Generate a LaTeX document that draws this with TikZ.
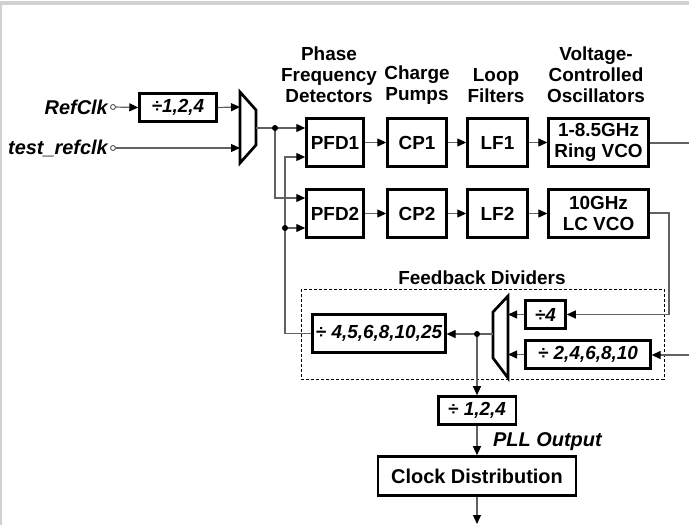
\documentclass[tikz,border=0pt]{standalone}
\usepackage{fontspec}
\setmainfont{Liberation Sans}
\usetikzlibrary{arrows.meta}
\newcommand\fsb{\fontsize{19}{21}\selectfont\bfseries}
\newcommand\fsi{\fontsize{19}{21}\selectfont\bfseries\itshape}
\newcommand\fsl{\fontsize{20}{22}\selectfont\bfseries\itshape}
\begin{document}
\begin{tikzpicture}[x=1bp,y=-1bp,
  box/.style={draw=black,line width=2.7bp,inner sep=0pt,align=center,font=\fsb},
  ibox/.style={box,font=\fsi},
  hdr/.style={align=center,font=\fsb,inner sep=0pt},
  lbl/.style={font=\fsl,inner sep=0pt},
  wire/.style={draw=black!62,line width=1.2bp},
  arr/.style={-{Triangle[length=9bp,width=8bp,color=black]}},
  mux/.style={draw=black,line width=2.7bp,line join=miter},
  term/.style={circle,draw=black!65,fill=white,inner sep=0pt,minimum size=5bp,line width=0.9bp},
  dot/.style={circle,fill=black,inner sep=0pt,minimum size=6bp},
  grp/.style={draw=black,line width=0.7bp,dash pattern=on 3bp off 2bp}]
\useasboundingbox (0,0) rectangle (689,525);
\fill[white] (0,0) rectangle (689,525);
\fill[black!18] (0,1) rectangle (689,5);
\fill[black!18] (0,1) rectangle (2,525);

% headers
\node[hdr] (hpfd) at (329,75) {Phase\\Frequency\\Detectors};
\node[hdr] (hcp) at (417,85.5) {Charge\\Pumps};
\node[hdr] (hlf) at (496,85.5) {Loop\\Filters};
\node[hdr] (hvco) at (596,75) {Voltage-\\Controlled\\Oscillators};

% inputs
\node[lbl,anchor=east] (lref) at (108,107) {RefClk};
\node[lbl,anchor=east] (ltest) at (108,148) {test\_refclk};
\node[term] (t1) at (113,107) {};
\node[term] (t2) at (113,148) {};
\node[ibox,minimum width=77,minimum height=28] (d0) at (178,107.5) {÷1,2,4};

% input mux
\draw[mux] (240,92) -- (256,110) -- (256,145) -- (240,163) -- cycle;
\coordinate (m1a) at (240,107);
\coordinate (m1b) at (240,148);
\coordinate (m1o) at (256,128);

% PLL rows
\node[box,minimum width=57,minimum height=48] (pfd1) at (335,142.5) {PFD1};
\node[box,minimum width=59,minimum height=48] (cp1) at (417,142.5) {CP1};
\node[box,minimum width=60,minimum height=48] (lf1) at (497.5,142.5) {LF1};
\node[box,minimum width=100,minimum height=48] (vco1) at (598.5,142.5) {1-8.5GHz\\Ring VCO};
\node[box,minimum width=57,minimum height=48] (pfd2) at (335,213.5) {PFD2};
\node[box,minimum width=59,minimum height=48] (cp2) at (417,213.5) {CP2};
\node[box,minimum width=60,minimum height=48] (lf2) at (497.5,213.5) {LF2};
\node[box,minimum width=100,minimum height=48] (vco2) at (598.5,213.5) {10GHz\\LC VCO};

% feedback group
\node[font=\fsb,inner sep=0pt] (hfb) at (482,278) {Feedback Dividers};
\draw[grp] (301,289) rectangle (664,379);
\node[ibox,minimum width=133,minimum height=38] (fbd) at (379,333.5) {÷ 4,5,6,8,10,25};
\node[ibox,minimum width=40,minimum height=28] (d4) at (545.5,314.5) {÷4};
\node[ibox,minimum width=125,minimum height=28] (d2) at (588,354.5) {÷ 2,4,6,8,10};
\draw[mux] (508,296) -- (493,312) -- (493,358) -- (508,378) -- cycle;
\coordinate (m2a) at (508,314.5);
\coordinate (m2b) at (508,354.5);
\coordinate (m2o) at (493,334);

% output
\node[ibox,minimum width=78,minimum height=28] (od) at (477,410.5) {÷ 1,2,4};
\node[box,minimum width=199,minimum height=39,font=\fontsize{20}{22}\selectfont\bfseries] (clk) at (477,476) {Clock Distribution};
\node[lbl,anchor=west] (lpll) at (493,442) {PLL Output};

% coordinates
\coordinate (j1) at (275,128);
\coordinate (j2) at (285,228);
\coordinate (j3) at (477,334);
\coordinate (e1) at (689,143);
\coordinate (e2) at (689,355);
\coordinate (e3) at (477,524);
\coordinate (c2) at (669,213);

% wires
\draw[wire,arr] (t1) -- (d0.west);
\draw[wire,arr] (d0.east) -- (m1a);
\draw[wire,arr] (t2) -- (m1b);
\draw[wire,arr] (m1o) -- (pfd1.west |- m1o);
\draw[wire,arr] (j1) |- (pfd2.west |- 0,198);
\draw[wire,arr] (fbd.west) -| (285,157) -- (pfd1.west |- 0,157);
\draw[wire,arr] (j2) -- (pfd2.west |- j2);
\draw[wire,arr] (pfd1) -- (cp1);
\draw[wire,arr] (cp1) -- (lf1);
\draw[wire,arr] (lf1) -- (vco1);
\draw[wire,arr] (pfd2) -- (cp2);
\draw[wire,arr] (cp2) -- (lf2);
\draw[wire,arr] (lf2) -- (vco2);
\draw[wire] (vco1.east |- e1) -- (e1);
\draw[wire,arr] (vco2.east |- c2) -- (c2) |- (d4.east);
\draw[wire,arr] (e2) -- (d2.east |- e2);
\draw[wire,arr] (d4.west) -- (m2a);
\draw[wire,arr] (d2.west) -- (m2b);
\draw[wire,arr] (m2o) -- (fbd.east |- m2o);
\draw[wire,arr] (j3) -- (od.north);
\draw[wire,arr] (od.south) -- (clk.north);
\draw[wire,arr] (clk.south) -- (e3);

% junction dots
\node[dot] at (j1) {};
\node[dot] at (j2) {};
\node[dot] at (j3) {};
\end{tikzpicture}
\end{document}
